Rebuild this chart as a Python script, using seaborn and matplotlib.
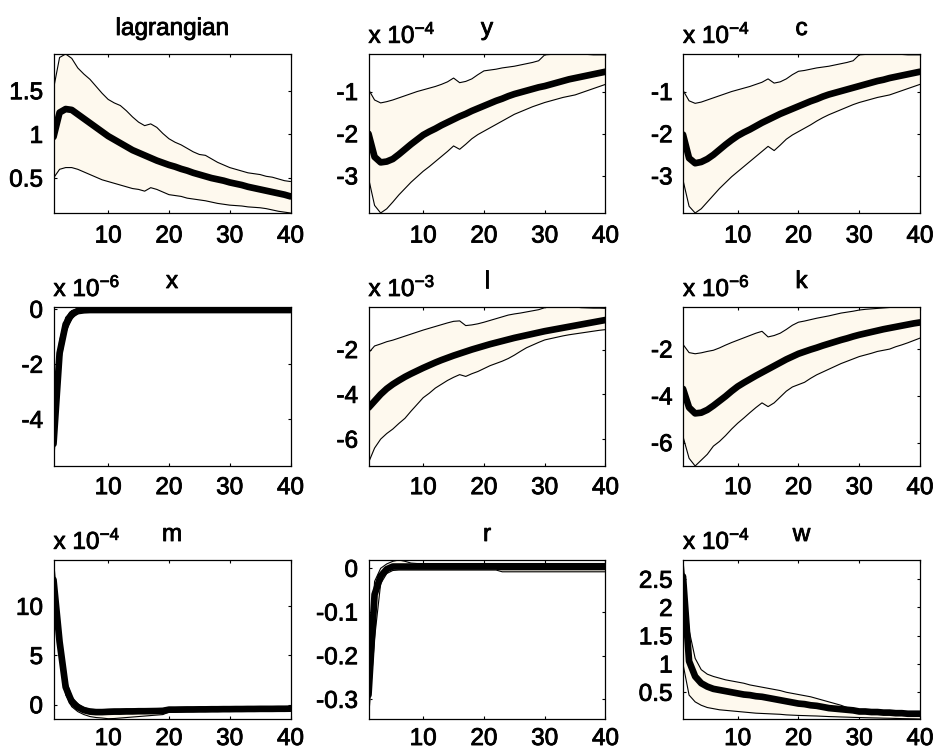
import matplotlib
matplotlib.use("Agg")
import matplotlib.pyplot as plt
import matplotlib.transforms as mtransforms
import matplotlib.patheffects as pe
from matplotlib.ticker import FormatStrFormatter
import numpy as np
import pandas as pd
import seaborn as sns

# ---------------------------------------------------------------- data
horizon = list(range(1, 41))

titles = ["lagrangian", "y", "c", "x", "l", "k", "m", "r", "w"]
exponents = [None, -4, -4, -6, -3, -6, -4, None, -4]

lagrangian_mean = [0.97, 1.25, 1.29, 1.28, 1.23, 1.18, 1.13, 1.08, 1.03, 0.98,
                   0.94, 0.90, 0.86, 0.82, 0.79, 0.76, 0.73, 0.70, 0.675, 0.65,
                   0.63, 0.605, 0.585, 0.56, 0.54, 0.52, 0.50, 0.485, 0.47, 0.45,
                   0.435, 0.42, 0.40, 0.385, 0.37, 0.355, 0.34, 0.325, 0.31, 0.29]
lagrangian_hi = [1.52, 1.88, 1.92, 1.87, 1.76, 1.69, 1.63, 1.55, 1.47, 1.40,
                 1.36, 1.33, 1.27, 1.20, 1.14, 1.10, 1.12, 1.08, 1.01, 0.95,
                 0.91, 0.88, 0.84, 0.80, 0.77, 0.76, 0.72, 0.68, 0.65, 0.62,
                 0.60, 0.58, 0.56, 0.55, 0.54, 0.52, 0.51, 0.49, 0.47, 0.46]
lagrangian_lo = [0.50, 0.60, 0.62, 0.62, 0.60, 0.57, 0.54, 0.51, 0.48, 0.46,
                 0.44, 0.42, 0.40, 0.38, 0.37, 0.35, 0.39, 0.37, 0.34, 0.31,
                 0.30, 0.29, 0.27, 0.26, 0.25, 0.24, 0.225, 0.21, 0.20, 0.19,
                 0.185, 0.18, 0.17, 0.165, 0.16, 0.15, 0.135, 0.12, 0.11, 0.10]

y_mean = [-2.0, -2.55, -2.68, -2.66, -2.6, -2.49, -2.37, -2.25, -2.14, -2.03,
          -1.95, -1.88, -1.8, -1.73, -1.66, -1.59, -1.53, -1.46, -1.4, -1.34,
          -1.28, -1.22, -1.17, -1.11, -1.06, -1.02, -0.98, -0.94, -0.9, -0.87,
          -0.83, -0.79, -0.75, -0.71, -0.68, -0.65, -0.62, -0.59, -0.56, -0.53]
y_hi = [-0.95, -1.2, -1.27, -1.24, -1.2, -1.15, -1.1, -1.05, -1.0, -0.96,
        -0.92, -0.88, -0.83, -0.77, -0.68, -0.79, -0.76, -0.7, -0.6, -0.51,
        -0.49, -0.47, -0.44, -0.42, -0.4, -0.37, -0.34, -0.31, -0.27, -0.13,
        -0.12, -0.12, -0.12, -0.12, -0.12, -0.12, -0.12, -0.13, -0.13, -0.13]
y_lo = [-3.05, -3.7, -3.88, -3.78, -3.62, -3.45, -3.3, -3.15, -3.02, -2.89,
        -2.78, -2.66, -2.54, -2.42, -2.29, -2.37, -2.25, -2.12, -2.02, -1.94,
        -1.86, -1.78, -1.7, -1.62, -1.54, -1.48, -1.42, -1.36, -1.31, -1.26,
        -1.22, -1.18, -1.14, -1.11, -1.08, -1.03, -0.98, -0.93, -0.88, -0.83]

c_mean = [-2.02, -2.58, -2.7, -2.67, -2.6, -2.5, -2.38, -2.26, -2.15, -2.05,
          -1.97, -1.9, -1.82, -1.74, -1.67, -1.6, -1.53, -1.47, -1.41, -1.35,
          -1.29, -1.23, -1.18, -1.12, -1.07, -1.03, -0.99, -0.95, -0.91, -0.87,
          -0.83, -0.79, -0.75, -0.72, -0.68, -0.65, -0.62, -0.59, -0.56, -0.53]
c_hi = [-0.97, -1.22, -1.28, -1.25, -1.2, -1.15, -1.1, -1.05, -1.0, -0.96,
        -0.92, -0.88, -0.83, -0.78, -0.7, -0.8, -0.77, -0.7, -0.6, -0.52,
        -0.5, -0.47, -0.44, -0.42, -0.4, -0.37, -0.34, -0.31, -0.27, -0.13,
        -0.12, -0.12, -0.12, -0.12, -0.12, -0.12, -0.12, -0.13, -0.13, -0.13]
c_lo = [-3.1, -3.72, -3.88, -3.78, -3.62, -3.46, -3.3, -3.16, -3.02, -2.9,
        -2.78, -2.66, -2.54, -2.42, -2.3, -2.4, -2.27, -2.13, -2.03, -1.95,
        -1.87, -1.79, -1.7, -1.62, -1.55, -1.49, -1.43, -1.37, -1.31, -1.26,
        -1.22, -1.18, -1.14, -1.11, -1.08, -1.03, -0.98, -0.93, -0.88, -0.83]

x_mean = [-4.9, -1.6, -0.55, -0.18, -0.07, -0.04, -0.03, -0.03, -0.03, -0.03,
          -0.03, -0.03, -0.03, -0.03, -0.03, -0.03, -0.03, -0.03, -0.03, -0.03,
          -0.03, -0.03, -0.03, -0.03, -0.03, -0.03, -0.03, -0.03, -0.03, -0.03,
          -0.03, -0.03, -0.03, -0.03, -0.03, -0.03, -0.03, -0.03, -0.03, -0.03]
x_hi = [-4.3, -1.15, -0.3, -0.05, 0.03, 0.06, 0.08, 0.07, 0.05, 0.04,
        0.03, 0.03, 0.03, 0.03, 0.03, 0.03, 0.03, 0.03, 0.03, 0.03,
        0.03, 0.03, 0.03, 0.03, 0.03, 0.03, 0.03, 0.03, 0.03, 0.03,
        0.03, 0.03, 0.03, 0.03, 0.03, 0.03, 0.03, 0.03, 0.03, 0.03]
x_lo = [-5.7, -2.1, -0.85, -0.35, -0.15, -0.09, -0.07, -0.06, -0.06, -0.06,
        -0.06, -0.06, -0.06, -0.06, -0.06, -0.06, -0.06, -0.06, -0.06, -0.06,
        -0.06, -0.06, -0.06, -0.06, -0.06, -0.06, -0.06, -0.06, -0.06, -0.06,
        -0.06, -0.06, -0.06, -0.06, -0.06, -0.06, -0.06, -0.06, -0.06, -0.06]

l_mean = [-4.6, -4.3, -4.0, -3.75, -3.55, -3.38, -3.22, -3.08, -2.95, -2.82,
          -2.7, -2.58, -2.47, -2.37, -2.27, -2.18, -2.09, -2.0, -1.92, -1.84,
          -1.76, -1.69, -1.62, -1.55, -1.48, -1.42, -1.36, -1.3, -1.24, -1.18,
          -1.13, -1.08, -1.03, -0.98, -0.93, -0.88, -0.83, -0.78, -0.73, -0.68]
l_hi = [-2.15, -1.84, -1.75, -1.65, -1.58, -1.49, -1.4, -1.31, -1.22, -1.13,
        -1.05, -0.97, -0.89, -0.81, -0.74, -0.72, -0.93, -0.9, -0.85, -0.78,
        -0.7, -0.62, -0.54, -0.46, -0.41, -0.37, -0.32, -0.27, -0.22, -0.13,
        -0.1, -0.1, -0.1, -0.1, -0.1, -0.13, -0.14, -0.15, -0.15, -0.16]
l_lo = [-7.05, -6.4, -6.0, -5.75, -5.55, -5.3, -5.07, -4.75, -4.45, -4.15,
        -3.95, -3.72, -3.55, -3.38, -3.24, -3.12, -3.2, -3.08, -2.98, -2.85,
        -2.72, -2.62, -2.52, -2.4, -2.25, -2.08, -1.92, -1.8, -1.68, -1.57,
        -1.51, -1.45, -1.39, -1.34, -1.3, -1.26, -1.22, -1.18, -1.14, -1.11]

k_mean = [-3.7, -4.5, -4.75, -4.72, -4.6, -4.42, -4.22, -4.02, -3.8, -3.6,
          -3.44, -3.29, -3.14, -3.0, -2.86, -2.72, -2.58, -2.44, -2.32, -2.2,
          -2.11, -2.02, -1.94, -1.85, -1.77, -1.69, -1.61, -1.54, -1.46, -1.39,
          -1.33, -1.27, -1.21, -1.15, -1.1, -1.05, -1.0, -0.95, -0.9, -0.86]
k_hi = [-1.8, -2.15, -2.2, -2.16, -2.1, -2.05, -1.95, -1.83, -1.72, -1.62,
        -1.52, -1.42, -1.32, -1.24, -1.48, -1.42, -1.32, -1.16, -0.98, -0.85,
        -0.8, -0.74, -0.68, -0.63, -0.58, -0.52, -0.46, -0.42, -0.38, -0.33,
        -0.3, -0.28, -0.26, -0.24, -0.22, -0.2, -0.2, -0.2, -0.2, -0.2]
k_lo = [-5.74, -6.67, -7.0, -6.75, -6.5, -6.15, -5.95, -5.7, -5.42, -5.17,
        -4.95, -4.72, -4.5, -4.3, -4.46, -4.3, -4.05, -3.8, -3.62, -3.52,
        -3.42, -3.25, -3.1, -2.98, -2.86, -2.74, -2.62, -2.52, -2.42, -2.32,
        -2.25, -2.18, -2.1, -2.05, -2.0, -1.9, -1.82, -1.73, -1.63, -1.53]

m_mean = [12.7, 6.4, 1.8, 0.3, -0.25, -0.55, -0.7, -0.75, -0.75, -0.72,
          -0.7, -0.7, -0.68, -0.68, -0.66, -0.66, -0.65, -0.64, -0.62, -0.5,
          -0.5, -0.49, -0.48, -0.48, -0.47, -0.47, -0.46, -0.46, -0.45, -0.45,
          -0.44, -0.44, -0.43, -0.43, -0.42, -0.42, -0.42, -0.41, -0.41, -0.4]
m_hi = [14.7, 7.8, 2.6, 0.8, 0.1, -0.3, -0.45, -0.5, -0.5, -0.48,
        -0.46, -0.45, -0.44, -0.43, -0.42, -0.42, -0.41, -0.4, -0.4, -0.28,
        -0.28, -0.27, -0.27, -0.27, -0.26, -0.26, -0.26, -0.26, -0.25, -0.25,
        -0.25, -0.25, -0.25, -0.25, -0.25, -0.25, -0.25, -0.25, -0.25, -0.25]
m_lo = [11.0, 5.0, 1.0, -0.2, -0.7, -1.0, -1.2, -1.3, -1.35, -1.42,
        -1.4, -1.35, -1.3, -1.25, -1.2, -1.15, -1.1, -1.05, -1.0, -0.75,
        -0.74, -0.73, -0.72, -0.71, -0.7, -0.7, -0.69, -0.69, -0.68, -0.68,
        -0.67, -0.67, -0.66, -0.66, -0.66, -0.65, -0.65, -0.65, -0.65, -0.65]

r_mean = [-0.29, -0.06, -0.018, -0.002, 0.004, 0.004, 0.004, 0.004, 0.004, 0.004,
          0.004, 0.004, 0.004, 0.004, 0.004, 0.004, 0.004, 0.004, 0.004, 0.004,
          0.004, 0.004, 0.003, 0.003, 0.003, 0.003, 0.003, 0.003, 0.003, 0.003,
          0.003, 0.003, 0.003, 0.003, 0.003, 0.003, 0.003, 0.003, 0.003, 0.003]
r_hi = [-0.24, -0.03, 0.0, 0.01, 0.016, 0.019, 0.016, 0.012, 0.011, 0.011,
        0.011, 0.011, 0.011, 0.011, 0.011, 0.011, 0.011, 0.011, 0.011, 0.011,
        0.011, 0.011, 0.011, 0.011, 0.011, 0.011, 0.011, 0.011, 0.011, 0.011,
        0.011, 0.011, 0.011, 0.011, 0.011, 0.011, 0.011, 0.011, 0.011, 0.011]
r_lo = [-0.345, -0.16, -0.035, -0.012, -0.005, -0.004, -0.004, -0.004, -0.004, -0.004,
        -0.004, -0.004, -0.004, -0.004, -0.004, -0.004, -0.004, -0.004, -0.004, -0.004,
        -0.004, -0.004, -0.008, -0.008, -0.008, -0.008, -0.008, -0.008, -0.008, -0.008,
        -0.008, -0.008, -0.008, -0.008, -0.008, -0.008, -0.008, -0.008, -0.008, -0.008]

w_mean = [2.55, 1.05, 0.78, 0.66, 0.6, 0.56, 0.54, 0.52, 0.5, 0.48,
          0.46, 0.45, 0.43, 0.42, 0.4, 0.38, 0.36, 0.34, 0.32, 0.3,
          0.29, 0.27, 0.26, 0.24, 0.22, 0.21, 0.2, 0.19, 0.18, 0.16,
          0.16, 0.15, 0.15, 0.14, 0.14, 0.13, 0.13, 0.12, 0.12, 0.12]
w_hi = [2.84, 1.6, 1.1, 0.9, 0.82, 0.78, 0.75, 0.72, 0.7, 0.68,
        0.66, 0.63, 0.61, 0.59, 0.57, 0.55, 0.53, 0.5, 0.48, 0.46,
        0.44, 0.42, 0.39, 0.36, 0.33, 0.3, 0.27, 0.23, 0.19, 0.17,
        0.17, 0.16, 0.16, 0.15, 0.15, 0.14, 0.14, 0.13, 0.13, 0.13]
w_lo = [1.0, 0.45, 0.33, 0.27, 0.23, 0.21, 0.19, 0.18, 0.17, 0.16,
        0.15, 0.14, 0.13, 0.125, 0.12, 0.115, 0.11, 0.1, 0.095, 0.09,
        0.087, 0.083, 0.08, 0.075, 0.07, 0.067, 0.063, 0.06, 0.056, 0.053,
        0.05, 0.047, 0.045, 0.042, 0.04, 0.037, 0.034, 0.032, 0.03, 0.027]

means = [lagrangian_mean, y_mean, c_mean, x_mean, l_mean, k_mean, m_mean, r_mean, w_mean]
uppers = [lagrangian_hi, y_hi, c_hi, x_hi, l_hi, k_hi, m_hi, r_hi, w_hi]
lowers = [lagrangian_lo, y_lo, c_lo, x_lo, l_lo, k_lo, m_lo, r_lo, w_lo]

y_limits = [(0.10, 1.92), (-3.88, -0.11), (-3.88, -0.11), (-5.7, 0.08), (-7.2, -0.1),
            (-7.0, -0.2), (-1.45, 14.7), (-0.345, 0.019), (0.027, 2.84)]
y_ticks = [[0.5, 1, 1.5], [-3, -2, -1], [-3, -2, -1], [-4, -2, 0], [-6, -4, -2],
           [-6, -4, -2], [0, 5, 10], [-0.3, -0.2, -0.1, 0], [0.5, 1, 1.5, 2, 2.5]]
x_ticks = [10, 20, 30, 40]

# ---------------------------------------------------------------- style
sns.set_theme(style="white")
plt.rcParams["font.family"] = ["Liberation Sans", "DejaVu Sans"]
plt.rcParams["axes.unicode_minus"] = False
plt.rcParams["mathtext.fontset"] = "custom"
plt.rcParams["mathtext.rm"] = "Liberation Sans"
plt.rcParams["mathtext.it"] = "Liberation Sans"

FONT = 17.5
BAND = "#FEF9EE"
W, H = 936, 755
DPI = 100
# slightly heavier glyph strokes for all labels
HEAVY = [pe.withStroke(linewidth=0.6, foreground="black")]

fig = plt.figure(figsize=(W / DPI, H / DPI), dpi=DPI, facecolor="white")

col_left = [53.5, 368.5, 683]
row_top = [54, 307, 560]
row_xpad = [9, 8, 6.5]
ax_w, ax_h = 237, 159

for i, name in enumerate(titles):
    r, c = divmod(i, 3)
    left = col_left[c] / W
    bottom = 1 - (row_top[r] + ax_h) / H
    ax = fig.add_axes([left, bottom, ax_w / W, ax_h / H])

    df = pd.DataFrame({"t": horizon, "mean": means[i],
                       "lo": lowers[i], "hi": uppers[i]})

    ax.fill_between(df["t"], df["lo"], df["hi"], color=BAND, linewidth=0, zorder=1)
    sns.lineplot(data=df, x="t", y="lo", ax=ax, color="black", linewidth=0.8,
                 estimator=None, zorder=2)
    sns.lineplot(data=df, x="t", y="hi", ax=ax, color="black", linewidth=0.8,
                 estimator=None, zorder=2)
    sns.lineplot(data=df, x="t", y="mean", ax=ax, color="black", linewidth=4.8,
                 estimator=None, zorder=3)

    ax.set_xlim(1, 40)
    ax.set_ylim(*y_limits[i])
    ax.set_xticks(x_ticks)
    ax.set_yticks(y_ticks[i])
    ax.yaxis.set_major_formatter(FormatStrFormatter("%g"))
    ax.set_xlabel("")
    ax.set_ylabel("")
    ax.tick_params(axis="both", direction="in", length=2.5, width=0.8,
                   top=True, right=True, bottom=True, left=True,
                   labelsize=FONT, colors="black")
    ax.tick_params(axis="x", pad=row_xpad[r])
    ax.tick_params(axis="y", pad=7.5)
    for lab in ax.get_xticklabels() + ax.get_yticklabels():
        lab.set_path_effects(HEAVY)
    for sp in ax.spines.values():
        sp.set_visible(True)
        sp.set_color("black")
        sp.set_linewidth(0.9)
        sp.set_zorder(5)
    ax.set_facecolor("white")

    # title and exponent label, placed in pixel offsets above the box
    above = mtransforms.offset_copy(ax.transAxes, fig=fig, x=0, y=19, units="dots")
    ax.text(0.5, 1.0, name, transform=above, ha="center", va="baseline",
            fontsize=FONT, color="black", path_effects=HEAVY)
    if exponents[i] is not None:
        exp_tr = mtransforms.offset_copy(ax.transAxes, fig=fig, x=0, y=11, units="dots")
        ax.text(0.0, 1.0, r"x 10$^{\mathregular{%d}}$" % exponents[i],
                transform=exp_tr, ha="left", va="baseline",
                fontsize=FONT, color="black", path_effects=HEAVY)

fig.savefig("out.png", dpi=DPI, facecolor="white")
